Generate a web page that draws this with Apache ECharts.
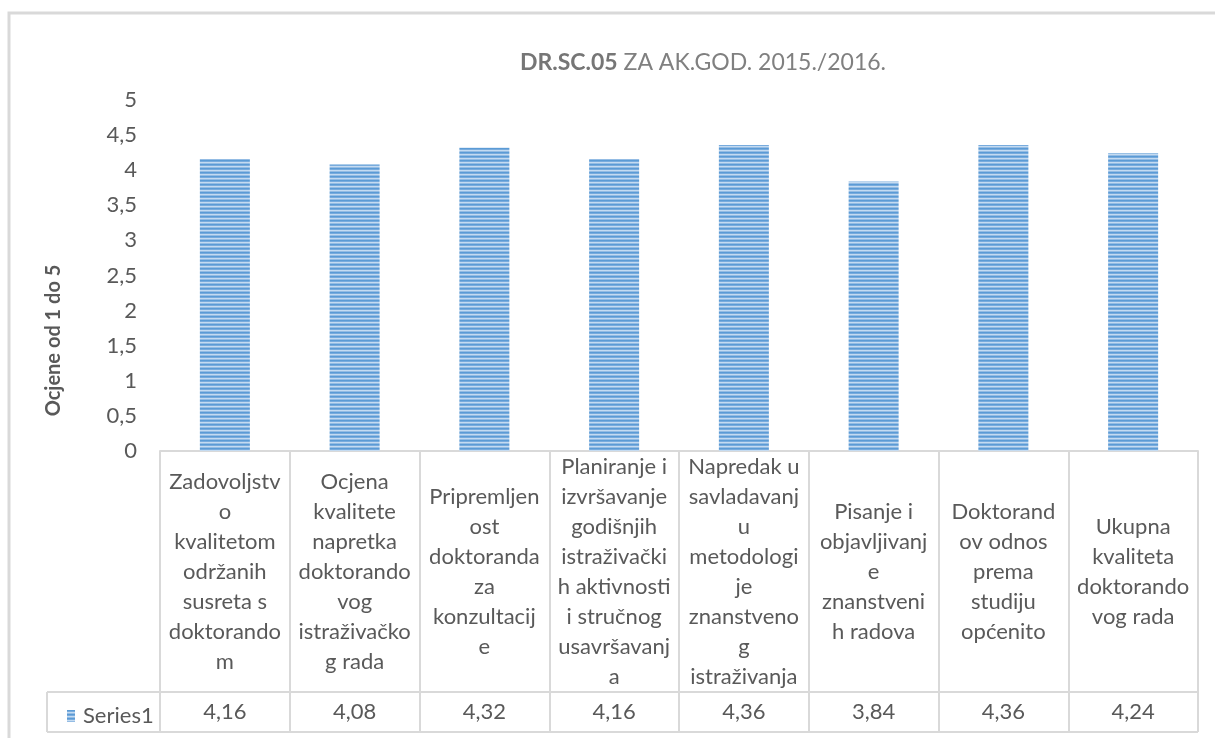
<!DOCTYPE html>
<html>
<head>
<meta charset="utf-8">
<script src="https://cdn.jsdelivr.net/npm/echarts@6/dist/echarts.min.js"></script>
<style>
  html, body { margin: 0; padding: 0; background: #fff; }
  #chart { width: 1215px; height: 738px; }
</style>
</head>
<body>
<div id="chart"></div>
<script>
// ---- data ----
const categories = [
  "Zadovoljstv\no\nkvalitetom\nodržanih\nsusreta s\ndoktorando\nm",
  "Ocjena\nkvalitete\nnapretka\ndoktorando\nvog\nistraživačko\ng rada",
  "Pripremljen\nost\ndoktoranda\nza\nkonzultacij\ne",
  "Planiranje i\nizvršavanje\ngodišnjih\nistraživački\nh aktivnosti\ni stručnog\nusavršavanj\na",
  "Napredak u\nsavladavanj\nu\nmetodologi\nje\nznanstveno\ng\nistraživanja",
  "Pisanje i\nobjavljivanj\ne\nznanstveni\nh radova",
  "Doktorand\nov odnos\nprema\nstudiju\nopćenito",
  "Ukupna\nkvaliteta\ndoktorando\nvog rada"
];
const seriesName = "Series1";
const values = [4.16, 4.08, 4.32, 4.16, 4.36, 3.84, 4.36, 4.24];
const yTicks = ["0", "0,5", "1", "1,5", "2", "2,5", "3", "3,5", "4", "4,5", "5"];
const titleBold = "DR.SC.05";
const titleRest = " ZA AK.GOD. 2015./2016.";
const yAxisTitle = "Ocjene od 1 do 5";

// ---- styling ----
const FONT = "Lato";
const TXT = "#595959";
const LINE = "#d9d9d9";

function stripePattern() {
  const c = document.createElement("canvas");
  c.width = 8; c.height = 4;
  const g = c.getContext("2d");
  const rows = ["#5b9bd5", "#78abdd", "#c4dbf1", "#94bce4"];
  rows.forEach((col, i) => { g.fillStyle = col; g.fillRect(0, i, 8, 1); });
  return { image: c, repeat: "repeat" };
}
const pattern = stripePattern();

const chart = echarts.init(document.getElementById("chart"), null, { renderer: "canvas" });

const GRID = { left: 160, right: 17, top: 100, bottom: 287 };
const TABLE_LEFT = 47, ROW_TOP = 692, ROW_BOTTOM = 732, TABLE_RIGHT = 1198;

chart.setOption({
  animation: false,
  backgroundColor: "#fff",
  title: {
    text: "{b|" + titleBold + "}{n|" + titleRest + "}",
    left: 698,
    top: 46,
    textAlign: "center",
    textStyle: {
      fontWeight: "normal",
      rich: {
        b: { fontFamily: FONT, fontSize: 23, fontWeight: "bold", color: "#767676" },
        n: { fontFamily: FONT, fontSize: 23, fontWeight: "normal", color: "#808080" }
      }
    }
  },
  legend: {
    show: true,
    left: 62,
    top: 700,
    itemWidth: 8,
    itemHeight: 12,
    icon: "rect",
    textStyle: { fontFamily: FONT, fontSize: 22, color: TXT, padding: [0, 0, 0, 3] },
    data: [seriesName]
  },
  grid: GRID,
  xAxis: [
    {
      type: "category",
      data: categories,
      boundaryGap: true,
      axisLine: { show: true, lineStyle: { color: LINE, width: 2 } },
      axisTick: { show: true, length: ROW_BOTTOM - 451, lineStyle: { color: LINE, width: 2 } },
      axisLabel: {
        interval: 0,
        margin: 121,
        verticalAlign: "middle",
        align: "center",
        lineHeight: 30,
        fontFamily: FONT,
        fontSize: 22,
        color: TXT
      },
      splitLine: { show: false }
    },
    {
      type: "category",
      data: values.map(v => v.toFixed(2).replace(".", ",")),
      position: "bottom",
      boundaryGap: true,
      axisLine: { show: false },
      axisTick: { show: false },
      axisLabel: {
        interval: 0,
        margin: 261,
        verticalAlign: "middle",
        fontFamily: FONT,
        fontSize: 22,
        color: TXT
      }
    }
  ],
  yAxis: {
    type: "value",
    min: 0,
    max: 5,
    interval: 0.5,
    axisLine: { show: false },
    axisTick: { show: false },
    splitLine: { show: false },
    axisLabel: {
      margin: 23,
      fontFamily: FONT,
      fontSize: 22,
      color: TXT,
      formatter: (v) => yTicks[Math.round(v * 2)]
    },
    name: yAxisTitle,
    nameLocation: "middle",
    nameGap: 96,
    nameRotate: 90,
    nameTextStyle: {
      fontFamily: FONT,
      fontSize: 20,
      fontWeight: "bold",
      color: TXT,
      padding: [0, 130, 0, 0]
    }
  },
  series: [
    {
      name: seriesName,
      type: "bar",
      data: values,
      barWidth: 50,
      itemStyle: { color: pattern }
    }
  ],
  graphic: [
    { type: "rect", shape: { x: 9, y: 13, width: 1230, height: 760 }, style: { fill: null, stroke: LINE, lineWidth: 3 }, silent: true },
    { type: "line", shape: { x1: TABLE_LEFT, y1: ROW_TOP, x2: TABLE_RIGHT, y2: ROW_TOP }, style: { stroke: LINE, lineWidth: 2 } },
    { type: "line", shape: { x1: TABLE_LEFT, y1: ROW_BOTTOM, x2: TABLE_RIGHT, y2: ROW_BOTTOM }, style: { stroke: LINE, lineWidth: 2 } },
    { type: "line", shape: { x1: TABLE_LEFT, y1: ROW_TOP, x2: TABLE_LEFT, y2: ROW_BOTTOM }, style: { stroke: LINE, lineWidth: 2 } }
  ]
});
</script>
</body>
</html>
